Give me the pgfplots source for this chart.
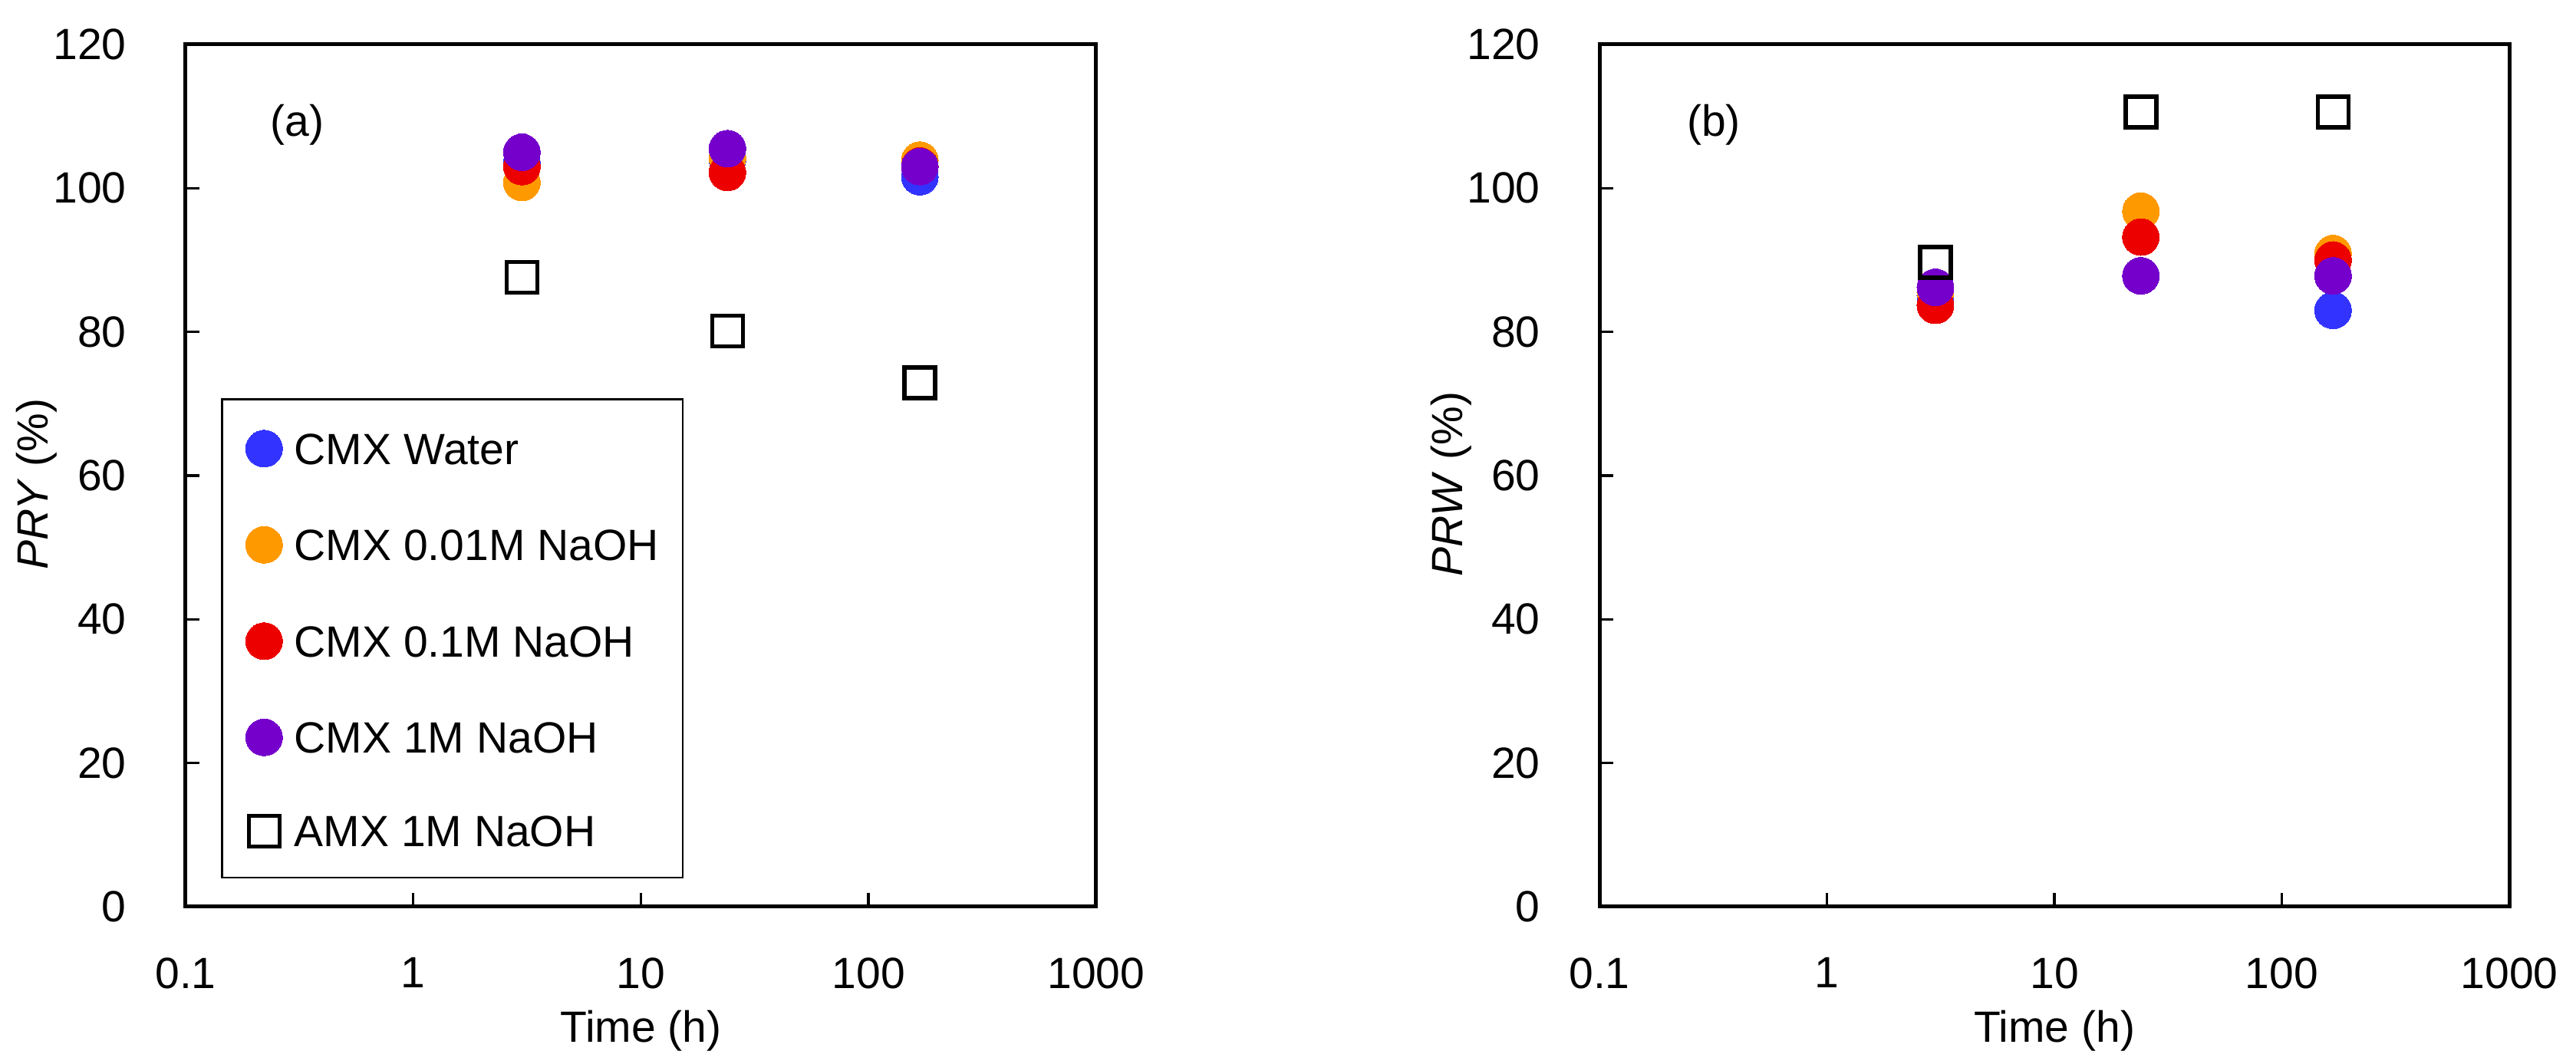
\documentclass[border=0pt]{standalone}
\usepackage{fontspec}
\setmainfont{Liberation Sans}
\usepackage{pgfplots}
\pgfplotsset{compat=1.18}
\definecolor{cblue}{RGB}{51,51,255}
\definecolor{corange}{RGB}{255,153,0}
\definecolor{cred}{RGB}{236,0,0}
\definecolor{cpurple}{RGB}{117,0,204}
\begin{document}
\fontsize{11.4}{13.7}\selectfont
\begin{tikzpicture}[font=\fontsize{11.4}{13.7}\selectfont]
\useasboundingbox (0,0) rectangle (671.6pt,277.4pt);
\begin{axis}[at={(48.4pt,41pt)}, anchor=south west, width=237.4pt,
    scale only axis, height=224.8pt,
    xmode=log, xmin=0.1, xmax=1000, ymin=0, ymax=120,
    xtick={0.1,1,10,100,1000}, xticklabels={0.1,1,10,100,1000},
    ytick={0,20,40,60,80,100,120},
    xminorticks=false,
    tick align=inside, tick pos=left,
    major tick length=3.6pt,
    tick style={black, line width=0.7pt},
    axis line style={line width=1pt},
    xticklabel shift=9.3pt, yticklabel shift=11.5pt,
    /pgf/number format/assume math mode=true,
    xlabel style={at={(rel axis cs:0.5,-0.1566)}, anchor=base},
    ylabel style={at={(rel axis cs:-0.1508,0.49)}, anchor=base},
    clip=false,
    xlabel={Time (h)},
  ylabel={\textit{PRY} (\%)},
  legend style={at={(rel axis cs:0.0388,0.0329)}, anchor=south west, draw=black, line width=0.5pt,
    inner xsep=6.2pt, inner ysep=8pt, row sep=15.5pt, column sep=3.1pt,
    cells={anchor=west}, nodes={inner sep=0pt, text height=8.2pt, text depth=0pt},
    font=\fontsize{11.4}{13.7}\selectfont},
]
\addplot[only marks, mark=*, mark size=4.8pt, color=cblue, mark options={draw=cblue, fill=cblue, line width=0pt}] coordinates {(3,103.5) (24,104.0) (168,101.6)};
\addlegendentry{CMX Water}
\addplot[only marks, mark=*, mark size=4.8pt, color=corange, mark options={draw=corange, fill=corange, line width=0pt}] coordinates {(3,100.8) (24,104.2) (168,103.9)};
\addlegendentry{CMX 0.01M NaOH}
\addplot[only marks, mark=*, mark size=4.8pt, color=cred, mark options={draw=cred, fill=cred, line width=0pt}] coordinates {(3,103.0) (24,102.2) (168,103.1)};
\addlegendentry{CMX 0.1M NaOH}
\addplot[only marks, mark=*, mark size=4.8pt, color=cpurple, mark options={draw=cpurple, fill=cpurple, line width=0pt}] coordinates {(3,105.0) (24,105.5) (168,103.0)};
\addlegendentry{CMX 1M NaOH}
\addplot[only marks, mark=square, mark size=4pt, color=black, mark options={line width=1.1pt, fill=none}] coordinates {(3,87.6) (24,80.1) (168,72.9)};
\addlegendentry{AMX 1M NaOH}
\node at (axis cs:0.31,108.8) {(a)};
\end{axis}
\begin{axis}[at={(417pt,41pt)}, anchor=south west, width=237.2pt,
    scale only axis, height=224.8pt,
    xmode=log, xmin=0.1, xmax=1000, ymin=0, ymax=120,
    xtick={0.1,1,10,100,1000}, xticklabels={0.1,1,10,100,1000},
    ytick={0,20,40,60,80,100,120},
    xminorticks=false,
    tick align=inside, tick pos=left,
    major tick length=3.6pt,
    tick style={black, line width=0.7pt},
    axis line style={line width=1pt},
    xticklabel shift=9.3pt, yticklabel shift=11.5pt,
    /pgf/number format/assume math mode=true,
    xlabel style={at={(rel axis cs:0.5,-0.1566)}, anchor=base},
    ylabel style={at={(rel axis cs:-0.1509,0.49)}, anchor=base},
    clip=false,
    xlabel={Time (h)},
  ylabel={\textit{PRW} (\%)},
]
\addplot[only marks, mark=*, mark size=4.8pt, color=cblue, mark options={draw=cblue, fill=cblue, line width=0pt}] coordinates {(3,85.0) (24,87.8) (168,83.0)};
\addplot[only marks, mark=*, mark size=4.8pt, color=corange, mark options={draw=corange, fill=corange, line width=0pt}] coordinates {(3,85.5) (24,96.8) (168,90.9)};
\addplot[only marks, mark=*, mark size=4.8pt, color=cred, mark options={draw=cred, fill=cred, line width=0pt}] coordinates {(3,83.7) (24,93.2) (168,90.0)};
\addplot[only marks, mark=*, mark size=4.8pt, color=cpurple, mark options={draw=cpurple, fill=cpurple, line width=0pt}] coordinates {(3,86.2) (24,87.8) (168,87.8)};
\addplot[only marks, mark=square, mark size=4pt, color=black, mark options={line width=1.1pt, fill=none}] coordinates {(3,89.7) (24,110.6) (168,110.6)};
\node at (axis cs:0.318,108.8) {(b)};
\end{axis}
\end{tikzpicture}
\end{document}
